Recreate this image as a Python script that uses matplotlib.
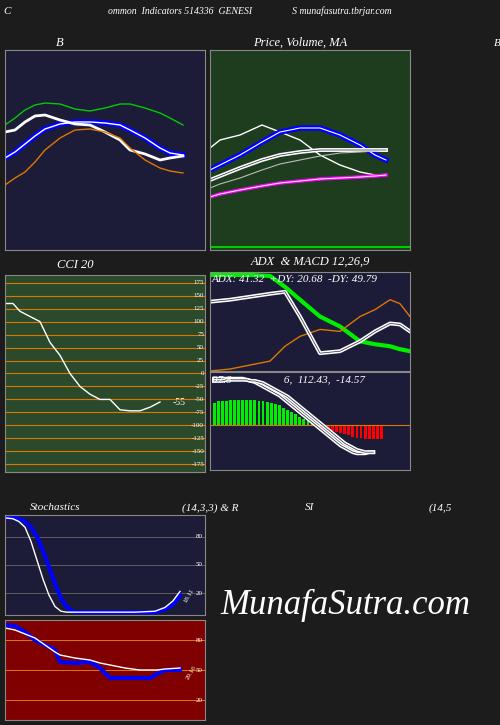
import matplotlib
matplotlib.use("Agg")
import matplotlib.pyplot as plt
import numpy as np

W, H = 500, 725
BG = "#1c1c1c"
NAVY = "#1c1c38"
GREEN = "#1e3c1e"
CCIG = "#2b4a2b"
RED = "#800000"
SER = ["Liberation Serif", "DejaVu Serif"]

# ---- data (panel units) ----
bb_x = [0, 10, 20, 30, 40, 55, 70, 85, 100, 115, 125, 140, 155, 165, 178]
bb_upper = [125, 132, 140, 145, 147, 146, 141, 139, 142, 146, 146, 142, 137, 132, 125]
bb_mid = [92, 98, 106, 114, 121, 126, 128, 128, 127, 125, 120, 112, 102, 97, 95]
bb_price = [118, 120, 128, 134, 135, 130, 126, 125, 118, 110, 100, 96, 90, 92, 94]
bb_lower = [65, 72, 78, 88, 100, 112, 120, 121, 118, 112, 102, 90, 82, 79, 77]

pv_x = [0, 10, 30, 52, 70, 90, 110, 130, 150, 165, 176]
pv_price = [102, 110, 115, 125, 118, 110, 95, 85, 78, 75, 75]
pv_ma = [80, 85, 95, 108, 118, 122, 122, 115, 105, 95, 90]
pv_ma2 = [70, 74, 82, 90, 95, 98, 100, 100, 100, 100, 100]
pv_ma3 = [62, 66, 72, 80, 86, 90, 94, 97, 98, 99, 100]
pv_ma4 = [53, 56, 60, 64, 67, 69, 71, 72, 73, 74, 75]

cci_x = [0, 8, 15, 25, 35, 45, 55, 65, 75, 85, 95, 105, 115, 125, 135, 145, 155]
cci_v = [135, 135, 120, 110, 100, 60, 35, 0, -25, -40, -50, -50, -70, -72, -72, -65, -55]
cci_levels = [175, 150, 125, 100, 75, 50, 25, 0, -25, -50, -75, -100, -125, -150, -175]

adx_x = [0, 20, 40, 60, 75, 90, 110, 130, 150, 165, 180, 190, 200]
adx_v = [97, 97, 97, 96, 85, 72, 55, 45, 30, 27, 25, 22, 20]
pdi_v = [0, 2, 6, 10, 25, 35, 42, 40, 55, 62, 72, 68, 55]
dx_v = [70, 72, 75, 78, 80, 55, 18, 20, 30, 40, 48, 47, 40]

macd_x = list(range(0, 45))
macd_hist = [20, 22, 22, 22, 23, 23, 23, 23, 23, 23, 23, 22, 22, 21, 20, 19, 18, 16, 14, 12, 10, 8, 6, 4, 2, 0,
             -2, -3, -4, -5, -6, -7, -8, -9, -10, -11, -11, -12, -12, -12, -12, -12]
macd_line = [42, 42, 42, 42, 42, 42, 42, 42, 41, 40, 39, 37, 35, 33, 31, 29, 27, 24, 21, 18, 15, 12, 9, 6, 3, 0,
             -3, -6, -9, -12, -15, -18, -20, -22, -24, -25, -25, -25, -24, -24]
macd_sig = [40, 40, 40, 41, 41, 41, 41, 41, 41, 40, 40, 39, 38, 36, 34, 32, 30, 28, 26, 23, 20, 17, 14, 11, 8, 5,
            2, -1, -4, -7, -10, -13, -16, -18, -20, -22, -23, -24, -24, -24]

st_x = [0, 8, 14, 20, 26, 32, 38, 44, 50, 56, 62, 70, 90, 110, 130, 150, 160, 168, 175]
st_k = [100, 100, 99, 96, 90, 80, 65, 48, 30, 15, 5, 0, 0, 0, 0, 0, 3, 8, 18]
st_d = [100, 99, 96, 90, 75, 55, 35, 18, 6, 1, 0, 0, 0, 0, 0, 1, 5, 12, 22]

rsi_x = [0, 10, 20, 30, 40, 50, 55, 70, 85, 95, 105, 120, 135, 145, 152, 160, 175]
rsi_v = [95, 94, 88, 80, 75, 70, 58, 57, 58, 52, 42, 42, 42, 42, 46, 50, 50]
rsi_s = [92, 90, 86, 82, 75, 68, 65, 62, 60, 57, 55, 52, 50, 50, 50, 51, 52]

fig = plt.figure(figsize=(W / 100, H / 100), dpi=100)
fig.patch.set_facecolor(BG)


def ax_px(x0, y0, x1, y1, color):
    a = fig.add_axes([x0 / W, 1 - y1 / H, (x1 - x0) / W, (y1 - y0) / H])
    a.set_facecolor(color)
    a.set_xticks([]); a.set_yticks([])
    for s in a.spines.values():
        s.set_color("#888888"); s.set_linewidth(0.8)
    return a


def txt(x, y, s, size=9, **kw):
    fig.text(x / W, 1 - y / H, s, color="white", fontsize=size, family=SER, style="italic", **kw)


def dbl(a, x, y, c="white", lw=1.0):
    a.plot(x, y, color=c, lw=lw + 2)
    a.plot(x, y, color="#1c1c38", lw=lw * 0.6)


txt(3, 11, "C", 8, va="center")
txt(250, 11, "ommon  Indicators 514336  GENESI                S munafasutra.tbrjar.com", 7, va="center", ha="center")

# Panel 1 Bollinger
a = ax_px(5, 50, 205, 250, NAVY)
a.set_xlim(0, 200); a.set_ylim(0, 200)
a.plot(bb_x, bb_upper, color="#00cc00", lw=1)
a.plot(bb_x, bb_mid, color="blue", lw=4)
a.plot(bb_x, bb_mid, color="white", lw=1)
a.plot(bb_x, bb_price, color="white", lw=2)
a.plot(bb_x, bb_lower, color="#dd7700", lw=1)
txt(60, 43, "B", 9, ha="center", va="center")
txt(497, 43, "B", 8, ha="center", va="center")

# Panel 2 Price
a = ax_px(210, 50, 410, 250, GREEN)
a.set_xlim(0, 200); a.set_ylim(0, 200)
a.plot(pv_x, pv_price, color="white", lw=1)
a.plot(pv_x, pv_ma, color="blue", lw=4)
a.plot(pv_x, pv_ma, color="white", lw=0.8)
dbl(a, pv_x, pv_ma2, "white", 0.8)
a.plot(pv_x, pv_ma3, color="#bbbbbb", lw=0.8)
a.plot(pv_x, pv_ma4, color="magenta", lw=2.5)
a.plot(pv_x, pv_ma4, color="white", lw=0.7)
a.axhline(3, color="#00cc00", lw=1.5)
txt(300, 43, "Price, Volume, MA", 9, ha="center", va="center")

# CCI
a = ax_px(5, 275, 205, 472, CCIG)
a.set_xlim(0, 200); a.set_ylim(-190, 190)
for l in cci_levels:
    a.axhline(l, color="#dd7700", lw=0.8)
    a.text(199, l, str(l), color="white", fontsize=5, ha="right", va="center", family=SER)
a.plot(cci_x, cci_v, color="white", lw=1)
a.text(168, -55, "-55", color="white", fontsize=7, va="center", family=SER)
txt(75, 265, "CCI 20", 9, ha="center", va="center")

# ADX
a = ax_px(210, 272, 410, 371, NAVY)
a.set_xlim(0, 200); a.set_ylim(0, 100)
a.plot(adx_x, adx_v, color="#00ee00", lw=3)
a.plot(adx_x, pdi_v, color="#dd7700", lw=1)
dbl(a, adx_x, dx_v, "white", 0.8)
txt(212, 280, "ADX: 41.32  +DY: 20.68  -DY: 49.79", 8, va="center")
txt(310, 262, "ADX  & MACD 12,26,9", 9, ha="center", va="center")

# MACD
a = ax_px(210, 372, 410, 470, NAVY)
a.set_xlim(-1, 48); a.set_ylim(-40, 48)
hx = macd_x[:len(macd_hist)]
a.bar(hx, macd_hist, width=0.7, color=["#00ee00" if v >= 0 else "red" for v in macd_hist])
a.axhline(0, color="#dd7700", lw=0.8)
dbl(a, macd_x[:len(macd_line)], macd_line, "white", 0.8)
dbl(a, macd_x[:len(macd_sig)], macd_sig, "white", 0.8)
txt(212, 380, "97.8                   6,  112.43,  -14.57", 8, va="center")

# Stochastics
a = ax_px(5, 515, 205, 615, NAVY)
a.set_xlim(0, 200); a.set_ylim(-3, 103)
for l in [80, 50, 20]:
    a.axhline(l, color="#666666", lw=0.6)
    a.text(198, l, str(l), color="white", fontsize=5, ha="right", va="center", family=SER)
a.plot(st_x, st_k, color="blue", lw=3)
a.plot(st_x, st_d, color="white", lw=1)
a.text(178, 10, "18.11", color="white", fontsize=5, rotation=60, family=SER)
txt(55, 508, "Stochastics", 8, ha="center", va="center")
txt(210, 508, "(14,3,3) & R", 8, ha="center", va="center")
txt(310, 508, "SI", 8, ha="center", va="center")
txt(440, 508, "(14,5", 8, ha="center", va="center")

# RSI
a = ax_px(5, 620, 205, 720, RED)
a.set_xlim(0, 200); a.set_ylim(0, 100)
for l in [80, 50, 20]:
    a.axhline(l, color="#dd7700", lw=0.7)
    a.text(198, l, str(l), color="white", fontsize=5, ha="right", va="center", family=SER)
a.plot(rsi_x, rsi_v, color="blue", lw=3)
a.plot(rsi_x, rsi_s, color="white", lw=1)
a.text(180, 40, "29.16", color="white", fontsize=5, rotation=60, family=SER)

fig.text(345 / W, 1 - 605 / H, "MunafaSutra.com", color="white", fontsize=25,
         family=SER, style="italic", ha="center", va="center")

fig.savefig("out.png", dpi=100, facecolor=BG)
